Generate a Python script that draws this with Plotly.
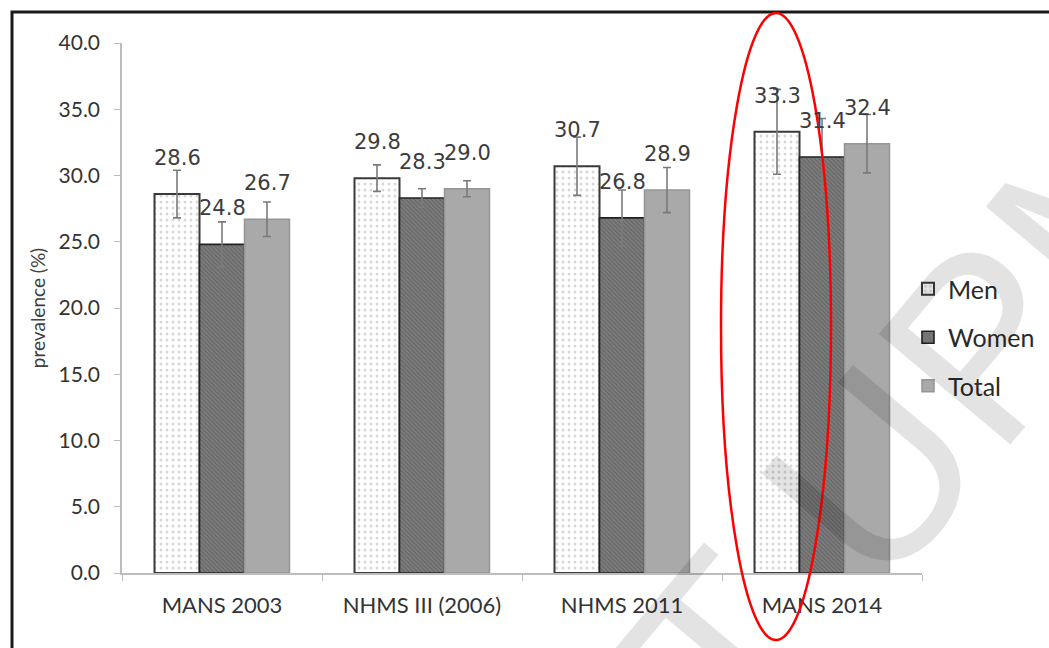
import plotly.graph_objects as go

# Survey labels and prevalence (%) by group
surveys = ["MANS 2003", "NHMS III (2006)", "NHMS 2011", "MANS 2014"]
men = [28.6, 29.8, 30.7, 33.3]
women = [24.8, 28.3, 26.8, 31.4]
total = [26.7, 29.0, 28.9, 32.4]

# Half-widths of the confidence intervals
men_err = [1.8, 1.0, 2.2, 3.2]
women_err = [1.7, 0.7, 2.1, 2.9]
total_err = [1.3, 0.6, 1.7, 2.2]

y_ticks = [0, 5, 10, 15, 20, 25, 30, 35, 40]

W, H = 1049, 648
ML, MR, MT, MB = 122, 127, 43, 75
PW, PH = W - ML - MR, H - MT - MB


def px_x(px):
    return (px - ML) / PW


def px_y(py):
    return (H - MB - py) / PH


axis_font = dict(family="Lato, 'Open Sans', sans-serif", size=21, color="#333333")
err_style = dict(type="data", visible=True, color="#7a7a7a", thickness=1.6, width=4)

series = [
    dict(name="Men", y=men, err=men_err,
         marker=dict(color="white",
                     line=dict(color="#3a3a3a", width=2),
                     pattern=dict(shape=".", fgcolor="#b0b0b0", bgcolor="white",
                                  size=6, solidity=0.2))),
    dict(name="Women", y=women, err=women_err,
         marker=dict(color="#6c6c6c",
                     line=dict(color="#222222", width=1.6),
                     pattern=dict(shape="\\", fgcolor="#4c4c4c", bgcolor="#7e7e7e",
                                  size=3, solidity=0.4))),
    dict(name="Total", y=total, err=total_err,
         marker=dict(color="#a9a9a9", line=dict(color="#959595", width=1.5))),
]

fig = go.Figure()
for i, s in enumerate(series):
    fig.add_trace(go.Bar(
        x=surveys, y=s["y"], name=s["name"], marker=s["marker"],
        error_y=dict(array=s["err"], **err_style),
        legendgroup=s["name"],
    ))

# Value labels above each bar
bar_px = PW / len(surveys) * 0.675 / 3
for i, s in enumerate(series):
    for cat, v in zip(surveys, s["y"]):
        fig.add_annotation(
            x=cat, y=v, text=f"{v:.1f}", showarrow=False,
            xshift=(i - 1) * bar_px, yshift=36, yanchor="middle",
            font=dict(family="DejaVu Sans", size=21, color="#3c3c3c"),
        )

# Diagonal watermark
fig.add_annotation(
    xref="paper", yref="paper", x=px_x(495), y=px_y(925),
    xanchor="center", yanchor="middle",
    text="COPYRIGHT UPM", showarrow=False, textangle=-50,
    font=dict(family="Liberation Sans, Arial, sans-serif", size=250,
              color="rgba(0,0,0,0.11)"),
)

# Outer frame
fig.add_shape(type="rect", xref="paper", yref="paper",
              x0=px_x(12), x1=px_x(1070), y0=px_y(12), y1=px_y(680),
              line=dict(color="#1a1a1a", width=3), layer="above")

# Highlight ring around the latest survey
fig.add_shape(type="circle", xref="paper", yref="paper",
              x0=px_x(721), x1=px_x(831), y0=px_y(13), y1=px_y(640),
              line=dict(color="#ff0000", width=2.5), layer="above")

fig.update_layout(
    width=W, height=H,
    margin=dict(l=ML, r=MR, t=MT, b=MB, pad=0, autoexpand=False),
    paper_bgcolor="white", plot_bgcolor="white",
    barmode="group", bargap=0.325, bargroupgap=0,
    showlegend=True,
    legend=dict(x=px_x(908), xanchor="left", y=px_y(266), yanchor="top",
                font=dict(family="Lato, 'Open Sans', sans-serif", size=25, color="#2a2a2a"),
                tracegroupgap=13, itemwidth=30, bgcolor="rgba(0,0,0,0)"),
    xaxis=dict(
        showline=True, linecolor="#bdbdbd", linewidth=1.5,
        ticks="outside", tickson="boundaries", ticklen=6, tickcolor="#bdbdbd",
        tickfont=dict(axis_font, size=22), showgrid=False, ticklabelstandoff=12,
    ),
    yaxis=dict(
        range=[0, 40], tickvals=y_ticks, ticktext=[f"{t:.1f}" for t in y_ticks],
        showline=True, linecolor="#bdbdbd", linewidth=1.5,
        ticks="outside", ticklen=6, tickcolor="#bdbdbd",
        tickfont=axis_font, showgrid=False, zeroline=False, ticklabelstandoff=10,
        title=dict(text="prevalence (%)", standoff=8,
                   font=dict(family="Lato, 'Open Sans', sans-serif", size=19, color="#404040")),
    ),
)

fig.write_html("out.html")
